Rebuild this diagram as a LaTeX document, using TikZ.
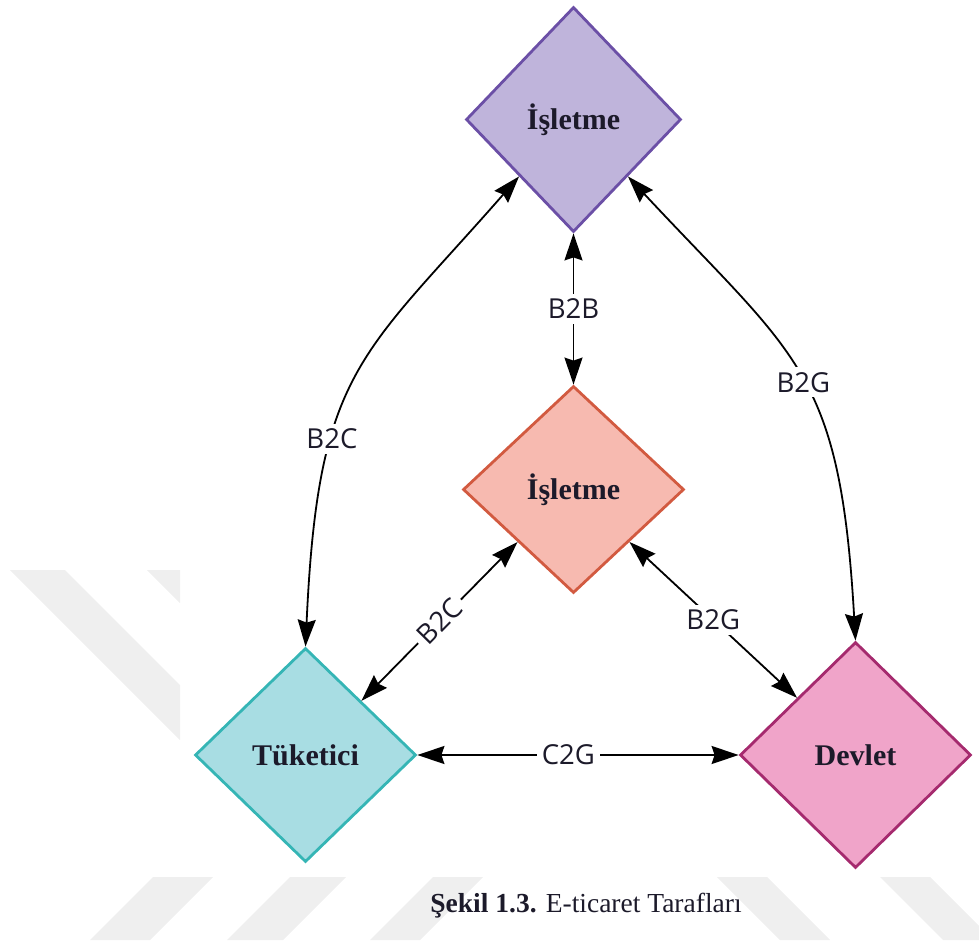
\documentclass[tikz,border=0pt]{standalone}
\usepackage{fontspec}
\setmainfont{Liberation Serif}
\newfontfamily\labelfont{Open Sans}
\usetikzlibrary{shapes.geometric,arrows.meta}

\definecolor{topfill}{HTML}{BFB4DB}
\definecolor{topdraw}{HTML}{6B4FA6}
\definecolor{midfill}{HTML}{F7BAB0}
\definecolor{middraw}{HTML}{D25A40}
\definecolor{tukfill}{HTML}{A8DDE3}
\definecolor{tukdraw}{HTML}{35B5B5}
\definecolor{devfill}{HTML}{F0A4C9}
\definecolor{devdraw}{HTML}{A52A6E}
\definecolor{wm}{HTML}{EFEFEF}
\definecolor{ink}{HTML}{1C1A2A}

\begin{document}
\begin{tikzpicture}[x=1pt,y=-1pt,
  box/.style={diamond, inner sep=0pt, line width=2.8pt,
    font=\fontsize{30}{33}\selectfont\bfseries, text=ink},
  link/.style={line width=1.8pt,
    {Stealth[length=27pt,width=18pt,inset=3pt]}-{Stealth[length=27pt,width=18pt,inset=3pt]}},
  lbl/.style={fill=white, inner sep=5pt,
    font=\labelfont\fontsize{27.5}{30}\selectfont, text=ink},
  wmark/.style={fill=wm, draw=none}]

\useasboundingbox (0,0) rectangle (979,947);

% faint watermark bands
\fill[wmark] (10,570) -- (65,570) -- (180,685) -- (180,740) -- cycle;
\fill[wmark] (147,570) -- (180,570) -- (180,603) -- cycle;
\fill[wmark] (90,940) -- (150,940) -- (213,877) -- (153,877) -- cycle;
\fill[wmark] (227,940) -- (283,940) -- (346,877) -- (290,877) -- cycle;
\fill[wmark] (370,940) -- (420,940) -- (483,877) -- (433,877) -- cycle;
\fill[wmark] (717,877) -- (767,877) -- (830,940) -- (780,940) -- cycle;
\fill[wmark] (880,877) -- (930,877) -- (979,926) -- (979,940) -- (943,940) -- cycle;

% diamonds
\node[box, fill=topfill, draw=topdraw, minimum width=215pt, minimum height=225pt]
  (top) at (573.5,119.5) {İşletme};
\node[box, fill=midfill, draw=middraw, minimum width=221pt, minimum height=207pt]
  (mid) at (573.5,489.5) {İşletme};
\node[box, fill=tukfill, draw=tukdraw, minimum width=221pt, minimum height=214pt]
  (tuk) at (305.5,755) {Tüketici};
\node[box, fill=devfill, draw=devdraw, minimum width=231pt, minimum height=226pt]
  (dev) at (855.5,755) {Devlet};

% connectors
\draw[link] (top.south) -- node[lbl] {B2B} (mid.north);
\draw[link] (top.south west) .. controls (360,358) and (318,370) ..
  node[lbl, pos=0.66] {B2C} (tuk.north);
\draw[link] (top.south east) .. controls (797,358) and (840,370) ..
  node[lbl, pos=0.52] {B2G} (dev.north);
\draw[link] (tuk.north east) -- node[lbl, sloped] {B2C} (mid.south west);
\draw[link] (mid.south east) -- node[lbl] {B2G} (dev.north west);
\draw[link] (tuk.east) -- node[lbl, pos=0.47] {C2G} (dev.west);

% caption
\node[font=\fontsize{27.5}{30}\selectfont, text=ink] (cap) at (586,906)
  {\textbf{Şekil 1.3.} E-ticaret Tarafları};
\end{tikzpicture}
\end{document}
